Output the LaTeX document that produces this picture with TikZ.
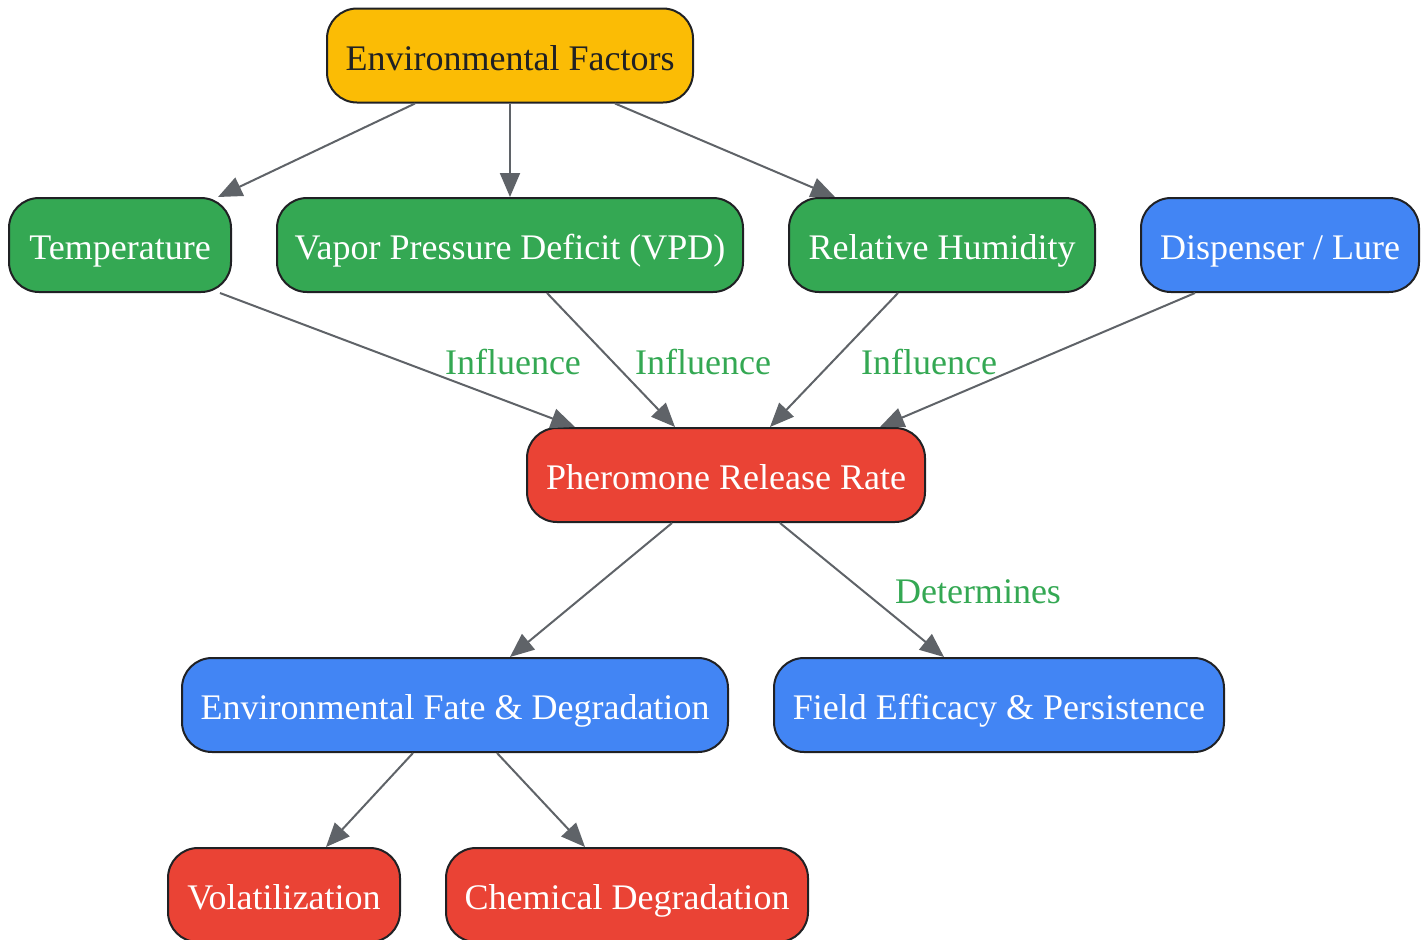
\documentclass[tikz,border=0pt]{standalone}
\usepackage{fontspec}
\setmainfont{Liberation Serif}
\usepackage{xcolor}
\usetikzlibrary{positioning,arrows.meta,calc}
\definecolor{gyellow}{HTML}{FBBC05}
\definecolor{ggreen}{HTML}{34A853}
\definecolor{gblue}{HTML}{4285F4}
\definecolor{gred}{HTML}{EA4335}
\definecolor{edgegray}{HTML}{5F6368}
\definecolor{inkdark}{HTML}{202124}

\begin{document}
\begin{tikzpicture}[x=1pt,y=-1pt,font=\fontsize{36}{40}\selectfont,
    box/.style={draw=inkdark,line width=2pt,rounded corners=30pt,minimum height=94pt,inner xsep=4pt,
        text height=36pt,text depth=7pt,text=white},
    flow/.style={draw=edgegray,line width=2pt,-{Triangle[length=24pt,width=20pt]}},
    edgelabel/.style={text=ggreen}]
    \useasboundingbox (0,0) rectangle (1425,940);
    % top level
    \node[box,fill=gyellow,text=inkdark,minimum width=366pt] (envfactors) at (510,55.5) {Environmental Factors};
    % drivers
    \node[box,fill=ggreen,minimum width=222pt] (temp) at (120,245) {Temperature};
    \node[box,fill=ggreen,minimum width=466pt] (vpd) at (510,245) {Vapor Pressure Deficit (VPD)};
    \node[box,fill=ggreen,minimum width=306pt] (humidity) at (942,245) {Relative Humidity};
    \node[box,fill=gblue,minimum width=278pt] (lure) at (1280,245) {Dispenser / Lure};
    % release and outcomes
    \node[box,fill=gred,minimum width=398pt] (release) at (726,475) {Pheromone Release Rate};
    \node[box,fill=gblue,minimum width=546pt] (fate) at (455,705) {Environmental Fate \& Degradation};
    \node[box,fill=gblue,minimum width=450pt] (efficacy) at (999,705) {Field Efficacy \& Persistence};
    \node[box,fill=gred,minimum width=232pt] (volat) at (284,895) {Volatilization};
    \node[box,fill=gred,minimum width=362pt] (chemdeg) at (627,895) {Chemical Degradation};

    \draw[flow] ($(envfactors.south)+(-95,0)$) -- ($(temp.north)+(98,0)$);
    \draw[flow] (envfactors.south) -- (vpd.north);
    \draw[flow] ($(envfactors.south)+(105,0)$) -- ($(humidity.north)+(-107,0)$);

    \draw[flow] ($(temp.south)+(100,0)$) -- ($(release.north)+(-151,0)$);
    \draw[flow] ($(vpd.south)+(37,0)$) -- ($(release.north)+(-51,0)$);
    \draw[flow] ($(humidity.south)+(-44,0)$) -- ($(release.north)+(44,0)$);
    \draw[flow] ($(lure.south)+(-85,0)$) -- ($(release.north)+(154,0)$);
    \node[edgelabel] (lbltemp) at (513,362) {Influence};
    \node[edgelabel] (lblvpd) at (703,362) {Influence};
    \node[edgelabel] (lblhum) at (929,362) {Influence};

    \draw[flow] ($(release.south)+(-54,0)$) -- ($(fate.north)+(55,0)$);
    \draw[flow] ($(release.south)+(54,0)$) -- ($(efficacy.north)+(-55,0)$);
    \node[edgelabel] (lbldet) at (978,592) {Determines};

    \draw[flow] ($(fate.south)+(-42,0)$) -- ($(volat.north)+(42,0)$);
    \draw[flow] ($(fate.south)+(42,0)$) -- ($(chemdeg.north)+(-42,0)$);
\end{tikzpicture}
\end{document}
